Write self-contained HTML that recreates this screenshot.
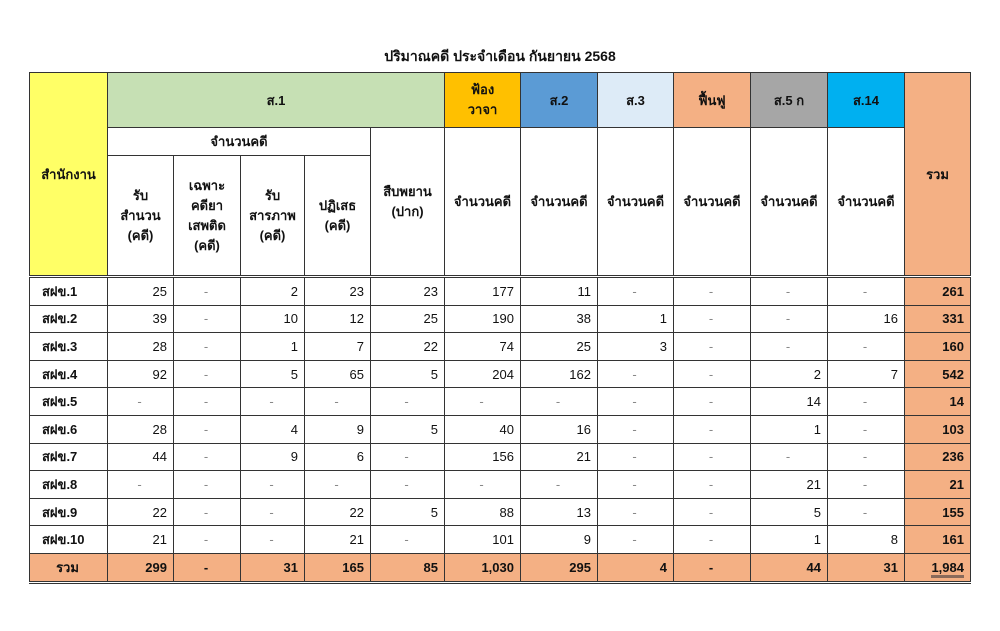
<!DOCTYPE html>
<html><head><meta charset="utf-8"><style>
body{margin:0;width:1000px;height:631px;background:#fff;font-family:"Liberation Sans","DejaVu Sans",sans-serif;position:relative;overflow:hidden}
.title{position:absolute;left:0;width:1000px;top:46px;text-align:center;font-size:14px;font-weight:bold;color:#111}
table{position:absolute;left:29px;top:72px;border-collapse:collapse;table-layout:fixed;font-size:13px;color:#111}
td{border:1px solid #333;padding:0 4px;text-align:center;overflow:hidden;white-space:nowrap}
.h td{font-weight:bold}
.hd{font-size:13px;line-height:20px;white-space:normal}
.d td{height:26.6px;text-align:right;padding-right:6px}
.d td:first-child{text-align:left;padding-left:12px;font-weight:bold}
.d td.n{text-align:center;color:#888}
.d td.t{background:#f4b084;font-weight:bold}
.tot td{background:#f4b084;font-weight:bold;height:27px;text-align:right;padding-right:6px;border-bottom:3px double #333}
.tot td:first-child{text-align:center}
tr.first td{border-top:3px double #333}
</style></head><body>
<div class="title">ปริมาณคดี ประจำเดือน กันยายน 2568</div>
<table>
<colgroup><col style="width:78px"><col style="width:66px"><col style="width:67px"><col style="width:64px"><col style="width:66px"><col style="width:74px"><col style="width:76px"><col style="width:77px"><col style="width:76px"><col style="width:77px"><col style="width:77px"><col style="width:77px"><col style="width:66px"></colgroup>
<tr class="h" style="height:55px">
<td rowspan="3" style="background:#ffff66">สำนักงาน</td>
<td colspan="5" style="background:#c6e0b4">ส.1</td>
<td class="hd" style="background:#ffc000">ฟ้อง<br>วาจา</td>
<td style="background:#5b9bd5">ส.2</td>
<td style="background:#ddebf7">ส.3</td>
<td style="background:#f4b084">ฟื้นฟู</td>
<td style="background:#a6a6a6">ส.5 ก</td>
<td style="background:#00b0f0">ส.14</td>
<td rowspan="3" style="background:#f4b084">รวม</td>
</tr>
<tr class="h" style="height:28px">
<td colspan="4">จำนวนคดี</td>
<td rowspan="2" class="hd">สืบพยาน<br>(ปาก)</td>
<td rowspan="2">จำนวนคดี</td><td rowspan="2">จำนวนคดี</td><td rowspan="2">จำนวนคดี</td><td rowspan="2">จำนวนคดี</td><td rowspan="2">จำนวนคดี</td><td rowspan="2">จำนวนคดี</td>
</tr>
<tr class="h" style="height:121px">
<td class="hd">รับ<br>สำนวน<br>(คดี)</td>
<td class="hd">เฉพาะ<br>คดียา<br>เสพติด<br>(คดี)</td>
<td class="hd">รับ<br>สารภาพ<br>(คดี)</td>
<td class="hd">ปฏิเสธ<br>(คดี)</td>
</tr>
<tr class="d first"><td>สฝข.1</td><td>25</td><td class="n">-</td><td>2</td><td>23</td><td>23</td><td>177</td><td>11</td><td class="n">-</td><td class="n">-</td><td class="n">-</td><td class="n">-</td><td class="t">261</td></tr>
<tr class="d"><td>สฝข.2</td><td>39</td><td class="n">-</td><td>10</td><td>12</td><td>25</td><td>190</td><td>38</td><td>1</td><td class="n">-</td><td class="n">-</td><td>16</td><td class="t">331</td></tr>
<tr class="d"><td>สฝข.3</td><td>28</td><td class="n">-</td><td>1</td><td>7</td><td>22</td><td>74</td><td>25</td><td>3</td><td class="n">-</td><td class="n">-</td><td class="n">-</td><td class="t">160</td></tr>
<tr class="d"><td>สฝข.4</td><td>92</td><td class="n">-</td><td>5</td><td>65</td><td>5</td><td>204</td><td>162</td><td class="n">-</td><td class="n">-</td><td>2</td><td>7</td><td class="t">542</td></tr>
<tr class="d"><td>สฝข.5</td><td class="n">-</td><td class="n">-</td><td class="n">-</td><td class="n">-</td><td class="n">-</td><td class="n">-</td><td class="n">-</td><td class="n">-</td><td class="n">-</td><td>14</td><td class="n">-</td><td class="t">14</td></tr>
<tr class="d"><td>สฝข.6</td><td>28</td><td class="n">-</td><td>4</td><td>9</td><td>5</td><td>40</td><td>16</td><td class="n">-</td><td class="n">-</td><td>1</td><td class="n">-</td><td class="t">103</td></tr>
<tr class="d"><td>สฝข.7</td><td>44</td><td class="n">-</td><td>9</td><td>6</td><td class="n">-</td><td>156</td><td>21</td><td class="n">-</td><td class="n">-</td><td class="n">-</td><td class="n">-</td><td class="t">236</td></tr>
<tr class="d"><td>สฝข.8</td><td class="n">-</td><td class="n">-</td><td class="n">-</td><td class="n">-</td><td class="n">-</td><td class="n">-</td><td class="n">-</td><td class="n">-</td><td class="n">-</td><td>21</td><td class="n">-</td><td class="t">21</td></tr>
<tr class="d"><td>สฝข.9</td><td>22</td><td class="n">-</td><td class="n">-</td><td>22</td><td>5</td><td>88</td><td>13</td><td class="n">-</td><td class="n">-</td><td>5</td><td class="n">-</td><td class="t">155</td></tr>
<tr class="d"><td>สฝข.10</td><td>21</td><td class="n">-</td><td class="n">-</td><td>21</td><td class="n">-</td><td>101</td><td>9</td><td class="n">-</td><td class="n">-</td><td>1</td><td>8</td><td class="t">161</td></tr>
<tr class="tot"><td>รวม</td><td>299</td><td style="text-align:center">-</td><td>31</td><td>165</td><td>85</td><td>1,030</td><td>295</td><td>4</td><td style="text-align:center">-</td><td>44</td><td>31</td><td><span style="border-bottom:3px solid #8a6a5a">1,984</span></td></tr>
</table>
</body></html>
